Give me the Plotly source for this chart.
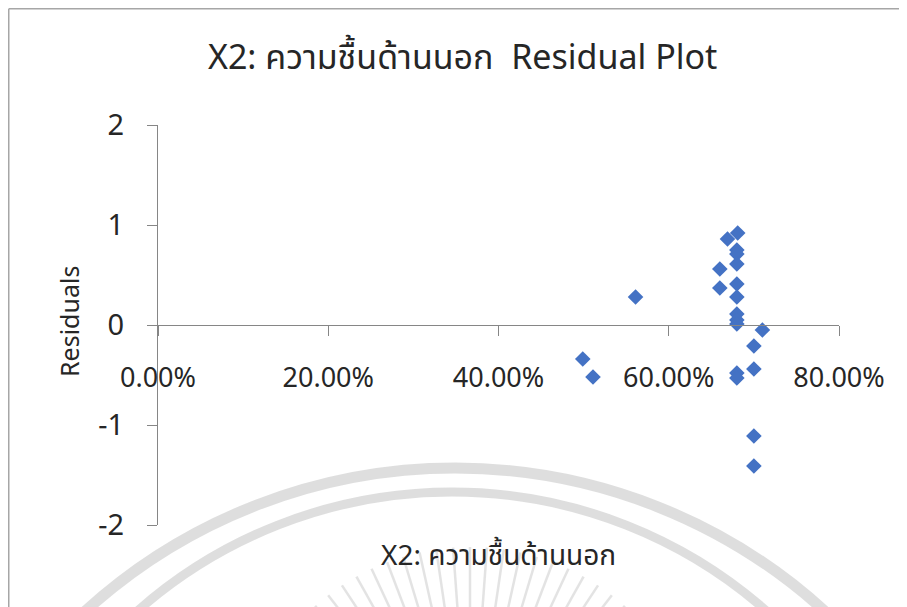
import math
import plotly.graph_objects as go

# ---- data ----
x_humidity = [0.561, 0.499, 0.511, 0.660, 0.660, 0.669, 0.681, 0.680, 0.680, 0.680,
              0.680, 0.680, 0.680, 0.680, 0.680, 0.710, 0.700, 0.700, 0.680, 0.680,
              0.700, 0.700]
residuals = [0.28, -0.34, -0.52, 0.37, 0.56, 0.86, 0.92, 0.75, 0.71, 0.61,
             0.41, 0.28, 0.11, 0.05, 0.01, -0.05, -0.21, -0.44, -0.48, -0.53,
             -1.11, -1.41]
x_ticks = [0, 0.2, 0.4, 0.6, 0.8]
y_ticks = [-2, -1, 0, 1, 2]

title_text = "X2: ความชื้นด้านนอก  Residual Plot"
x_title = "X2: ความชื้นด้านนอก"
y_title = "Residuals"

FONT = "Noto Sans Thai, Noto Sans, Leelawadee UI, sans-serif"
OFF = 8                      # page body margin
W, H = 907 - OFF, 607 - OFF
L, R, T, B = 158, 839, 125, 525   # plot area in screen pixels


def px(x):
    return (x - L) / (R - L)


def py(y):
    return (B - y) / (B - T)


fig = go.Figure()
fig.add_trace(go.Scatter(
    x=x_humidity, y=residuals, mode="markers",
    marker=dict(symbol="diamond", size=12, color="#4472C4"),
    cliponaxis=False, showlegend=False,
))

shapes = []
wm = "rgba(200,200,200,0.6)"
# watermark arcs (decorative)
for cx, top, r, w in [(455, 468, 549, 11), (452, 492, 475, 9)]:
    shapes.append(dict(type="circle", xref="paper", yref="paper",
                       x0=px(cx - r), x1=px(cx + r), y0=py(top), y1=py(top + 2 * r),
                       line=dict(color=wm, width=w), layer="below"))
# watermark rays
cxr, cyr = 470, 780
n = 24
for k in range(n + 1):
    ang = math.radians(-140 + k * (100 / n))
    r1, r2 = 165, 233
    x1, y1 = cxr + r1 * math.cos(ang), cyr + r1 * math.sin(ang)
    x2, y2 = cxr + r2 * math.cos(ang), cyr + r2 * math.sin(ang)
    shapes.append(dict(type="line", xref="paper", yref="paper",
                       x0=px(x1), y0=py(y1), x1=px(x2), y1=py(y2),
                       line=dict(color="rgba(200,200,200,0.5)", width=2.5), layer="below"))
# chart frame (left and top borders)
top_y = OFF + 0.75
shapes.append(dict(type="line", xref="paper", yref="paper",
                   x0=px(8.75), y0=py(top_y), x1=px(8.75), y1=py(607),
                   line=dict(color="#A6A6A6", width=1.5)))
shapes.append(dict(type="line", xref="paper", yref="paper",
                   x0=px(8.75), y0=py(top_y), x1=px(907), y1=py(top_y),
                   line=dict(color="#A6A6A6", width=1.5)))

fig.update_layout(
    width=W, height=H,
    margin=dict(l=L - OFF, r=W - (R - OFF), t=T - OFF, b=H - (B - OFF)),
    paper_bgcolor="white", plot_bgcolor="rgba(0,0,0,0)",
    font=dict(family=FONT, color="#262626"),
    shapes=shapes,
    annotations=[
        dict(text=title_text, xref="paper", yref="paper", x=px(462), y=py(59),
             xanchor="center", yanchor="middle", showarrow=False,
             font=dict(size=34, family=FONT, color="#262626")),
        dict(text=x_title, xref="paper", yref="paper", x=0.5, y=py(556),
             xanchor="center", yanchor="middle", showarrow=False,
             font=dict(size=28, family=FONT, color="#262626")),
        dict(text=y_title, xref="paper", yref="paper", x=px(71), y=py(322),
             xanchor="center", yanchor="middle", showarrow=False, textangle=-90,
             font=dict(size=25, family=FONT, color="#262626")),
    ],
)
fig.update_xaxes(
    range=[0, 0.8], tickvals=x_ticks, tickformat=".2%",
    anchor="free", position=0.5,
    showline=True, linecolor="#868686", linewidth=1,
    ticks="outside", ticklen=10, tickcolor="#868686",
    ticklabelstandoff=19,
    showgrid=False, zeroline=False,
    tickfont=dict(size=27, family=FONT, color="#262626"),
)
fig.update_yaxes(
    range=[-2, 2], tickvals=y_ticks,
    showline=True, linecolor="#868686", linewidth=1,
    ticks="outside", ticklen=10, tickcolor="#868686",
    ticklabelstandoff=17,
    showgrid=False, zeroline=False,
    tickfont=dict(size=29, family=FONT, color="#262626"),
)

fig.write_html("out.html")
